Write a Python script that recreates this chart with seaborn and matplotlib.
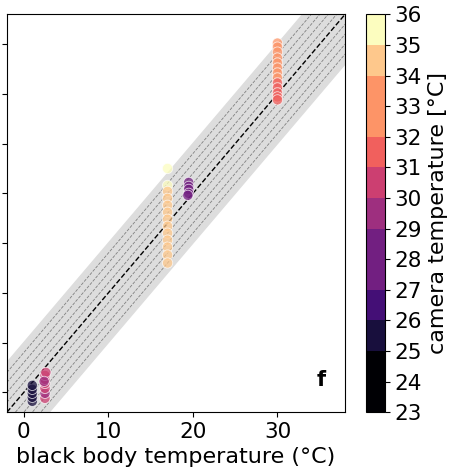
import numpy as np
import pandas as pd
import matplotlib
matplotlib.use("Agg")
import matplotlib.pyplot as plt
import matplotlib.colors as mcolors
import seaborn as sns

# black body temperature, measured temperature, camera temperature
bb_temp = [1.0, 1.0, 1.0, 1.0, 1.0,
           2.5, 2.5, 2.5, 2.5, 2.5, 2.5, 2.6, 2.4,
           17.0, 17.0, 17.0, 17.0, 17.0, 17.0, 17.0, 17.0, 17.0, 17.0, 17.0, 17.0, 17.0,
           19.5, 19.5, 19.5, 19.5, 19.4,
           30.0, 30.0, 30.0, 30.0, 30.0, 30.0, 30.0, 30.0, 30.0, 30.0, 30.0, 30.0, 30.0]
meas_temp = [-0.9, -0.5, -0.1, 0.3, 0.7,
             -0.6, -0.1, 0.4, 0.9, 1.3, 1.7, 2.0, 1.1,
             22.5, 20.8, 20.2, 19.5, 18.8, 18.1, 17.4, 16.7, 16.0, 15.3, 14.6, 13.8, 13.0,
             21.1, 20.7, 20.4, 20.0, 19.8,
             35.1, 34.7, 34.2, 33.6, 33.1, 32.6, 32.1, 31.6, 31.1, 30.6, 30.1, 29.7, 29.4]
cam_temp = [25.5, 25.5, 25.5, 25.5, 25.5,
            30.5, 29.5, 30.5, 30.5, 30.5, 30.5, 30.5, 29.5,
            35.5, 35.2, 34.5, 34.5, 34.5, 34.5, 34.5, 34.5, 34.5, 34.5, 34.5, 34.5, 34.5,
            28.0, 28.0, 28.0, 28.0, 28.0,
            33.0, 33.0, 33.0, 33.0, 33.0, 33.0, 33.0, 33.0, 31.5, 31.5, 31.5, 31.5, 31.5]

bounds = [23, 25, 26, 27, 29, 30, 31, 32, 34, 35, 36]
cbar_ticks = list(range(23, 37))
offsets = [-4, -3, -2, -1, 1, 2, 3, 4]

df = pd.DataFrame({"bb": bb_temp, "meas": meas_temp, "cam": cam_temp})

cmap = plt.get_cmap("magma")
norm = mcolors.BoundaryNorm(bounds, cmap.N)

plt.rcParams["font.size"] = 15.5
fig = plt.figure(figsize=(4.62, 4.76), dpi=100)
ax = fig.add_axes([0.015, 0.134, 0.732, 0.836])
cax = fig.add_axes([0.792, 0.134, 0.041, 0.836])

lim = (-2, 38)
xx = np.array(lim)
ax.fill_between(xx, xx - 5, xx + 5, color="#dddddd", zorder=0)
for k in offsets:
    ax.plot(xx, xx + k, color="gray", ls="--", lw=0.6, zorder=1)
ax.plot(xx, xx, color="black", ls="--", lw=1, zorder=2)

sns.scatterplot(data=df, x="bb", y="meas", hue="cam", palette=cmap, hue_norm=norm,
                s=55, alpha=0.75, edgecolor="white", linewidth=0.6,
                legend=False, ax=ax, zorder=3)

ax.set_xlim(lim)
ax.set_ylim(lim)
ax.set_xticks([0, 10, 20, 30])
ax.set_yticks(range(0, 36, 5))
ax.set_yticklabels([])
ax.set_ylabel("")
ax.set_xlabel("black body temperature (°C)", fontsize=16)
ax.text(0.93, 0.08, "f", transform=ax.transAxes, fontweight="bold",
        fontsize=15, ha="center", va="center")

sm = plt.cm.ScalarMappable(norm=norm, cmap=cmap)
cb = fig.colorbar(sm, cax=cax, spacing="proportional", ticks=cbar_ticks)
cb.set_label("camera temperature [°C]", fontsize=16)

fig.savefig("out.png", dpi=100)
